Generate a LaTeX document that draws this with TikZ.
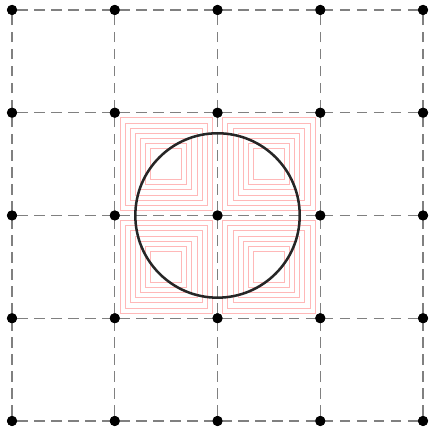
\documentclass[tikz,border=0pt]{standalone}
\begin{document}
\begin{tikzpicture}[x=2cm,y=2cm,
  gridline/.style={draw=black!50,dash pattern=on 5.8pt off 3.6pt,line width=0.75pt},
  dot/.style={circle,fill=black,inner sep=0pt,minimum size=5.6pt},
  pinksq/.style={draw=red!28,line width=0.45pt},
  ring/.style={draw=black!85,line width=1.4pt}]
\useasboundingbox (-0.117,-0.117) rectangle (4.088,4.097);
% pink nested squares in the four central cells
\foreach \cx/\cy in {1.5/2.5,2.5/2.5,1.5/1.5,2.5/1.5}{
  \foreach \s in {0.3,0.4,0.5,0.6,0.7,0.8,0.9}{
    \draw[pinksq] (\cx-0.5*\s,\cy-0.5*\s) rectangle (\cx+0.5*\s,\cy+0.5*\s);
  }
}
% grid points
\foreach \i in {0,...,4}{
  \foreach \j in {0,...,4}{
    \node[dot] (p-\i-\j) at (\i,\j) {};
  }
}
% dashed grid lines
\foreach \k in {0,...,4}{
  \draw[gridline] (p-0-\k) -- (p-4-\k);
  \draw[gridline] (p-\k-0) -- (p-\k-4);
}
% circle
\draw[ring] (p-2-2) circle[radius=0.8];
% redraw points on top
\foreach \i in {0,...,4}{
  \foreach \j in {0,...,4}{
    \fill (p-\i-\j) circle[radius=2.8pt];
  }
}
\end{tikzpicture}
\end{document}
